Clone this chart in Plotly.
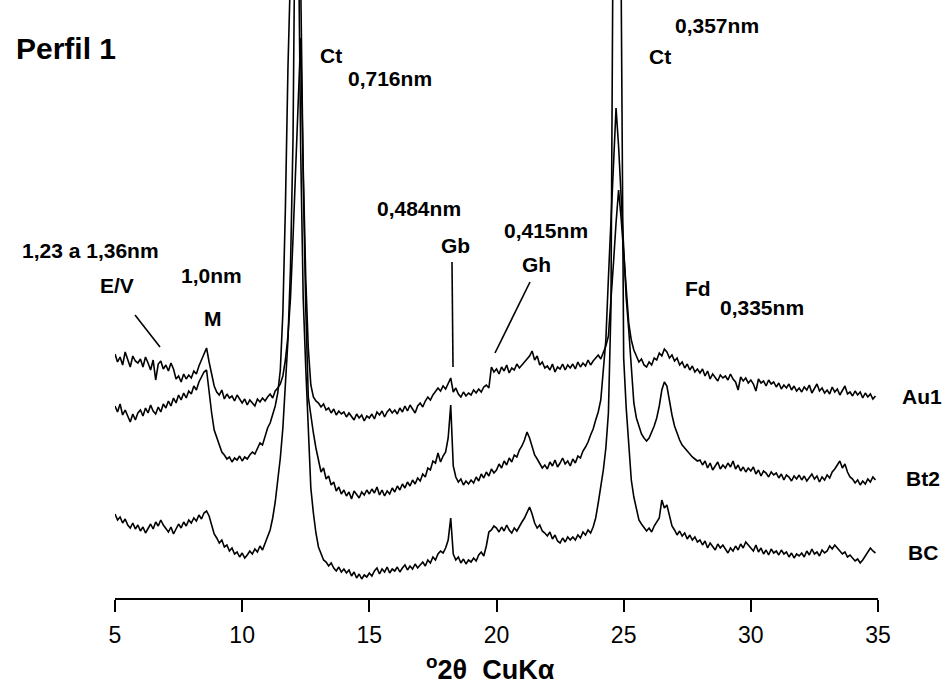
import plotly.graph_objects as go

# 2-theta sampling positions (degrees, CuKa)
two_theta = [round(5.0 + 0.1 * i, 1) for i in range(300)]

# Intensities (arbitrary units, already vertically offset as in the figure)
au1 = [
    244, 236, 241, 233, 246, 238, 231, 242, 237, 235,
    239, 231, 241, 235, 228, 238, 218, 234, 237, 229,
    233, 227, 235, 229, 219, 222, 216, 224, 219, 223,
    220, 227, 224, 232, 238, 245, 250, 236, 222, 212,
    206, 203, 208, 199, 204, 200, 202, 197, 203, 199,
    195, 199, 193, 198, 195, 192, 199, 196, 200, 197,
    201, 204, 200, 207, 210, 214, 222, 238, 262, 300,
    360, 430, 500, 560, 430, 320, 250, 213, 201, 197,
    195, 191, 194, 188, 190, 185, 189, 183, 187, 184,
    186, 181, 185, 182, 178, 184, 180, 183, 177, 182,
    180, 184, 179, 186, 183, 187, 181, 186, 189, 185,
    188, 184, 190, 186, 192, 187, 193, 189, 185, 192,
    195, 191, 197, 201, 198, 203, 206, 210, 207, 212,
    209, 214, 220, 206, 210, 204, 201, 206, 202, 205,
    203, 208, 205, 209, 206, 211, 213, 210, 231, 226,
    229, 224, 231, 227, 233, 225, 230, 228, 234, 230,
    233, 236, 239, 242, 247, 238, 242, 233, 236, 230,
    232, 228, 234, 226, 231, 229, 234, 228, 233, 230,
    234, 229, 236, 231, 235, 232, 238, 233, 237, 240,
    243, 239, 245, 252, 262, 295, 335, 375, 408, 380,
    345, 305, 275, 258, 248, 242, 236, 239, 233, 231,
    236, 233, 240, 238, 245, 242, 249, 246, 240, 243,
    237, 240, 233, 236, 230, 234, 228, 232, 226, 229,
    225, 229, 222, 227, 219, 224, 221, 217, 223, 220,
    222, 218, 224, 219, 216, 208, 221, 217, 220, 215,
    218, 214, 207, 219, 215, 217, 212, 218, 214, 216,
    211, 215, 209, 213, 210, 214, 208, 212, 207, 210,
    206, 211, 208, 213, 205, 209, 214, 207, 210, 205,
    208, 204, 211, 206, 209, 203, 207, 212, 204, 206,
    202, 207, 203, 206, 200, 205, 201, 204, 199, 202,
]

bt2 = [
    192, 186, 194, 183, 188, 181, 176, 184, 178, 185,
    188, 182, 190, 185, 193, 187, 184, 191, 186, 194,
    190, 197, 192, 200, 195, 203, 198, 205, 200, 207,
    204, 212, 208, 216, 221, 226, 228, 204, 185, 168,
    160, 152, 146, 143, 139, 141, 136, 140, 138, 142,
    137, 141, 139, 143, 146, 144, 150, 155, 153, 162,
    170, 175, 183, 192, 205, 228, 285, 390, 530, 650,
    780, 820, 760, 620, 420, 290, 201, 180, 165, 150,
    138, 126, 130, 119, 122, 113, 116, 107, 111, 104,
    108, 102, 106, 99, 107, 104, 100, 106, 103, 108,
    104, 109, 105, 111, 103, 108, 102, 107, 104, 110,
    106, 112, 108, 114, 110, 116, 112, 118, 114, 120,
    117, 124, 121, 130, 128, 137, 135, 145, 136, 142,
    146, 160, 193, 132, 121, 116, 119, 113, 117, 114,
    118, 115, 121, 117, 124, 120, 126, 122, 129, 125,
    128, 134, 130, 137, 133, 140, 136, 143, 141, 148,
    152, 158, 166, 160, 150, 143, 139, 134, 130, 133,
    129, 136, 132, 138, 131, 135, 140, 134, 137, 132,
    139, 135, 142, 140, 147, 151, 156, 163, 169, 178,
    186, 198, 225, 258, 320, 380, 440, 490, 452, 400,
    350, 300, 268, 232, 195, 180, 171, 164, 160, 157,
    160, 166, 172, 180, 192, 208, 216, 212, 196, 183,
    172, 164, 158, 153, 150, 146, 143, 141, 139, 137,
    138, 133, 137, 130, 135, 128, 132, 136, 129, 133,
    130, 135, 131, 137, 129, 133, 127, 131, 126, 130,
    127, 131, 124, 128, 122, 127, 125, 121, 126, 123,
    125, 120, 124, 118, 123, 121, 117, 122, 119, 123,
    118, 122, 117, 121, 124, 119, 122, 116, 121, 118,
    123, 120, 126, 129, 133, 137, 130, 134, 126, 121,
    119, 115, 118, 113, 117, 114, 119, 116, 121, 118,
]

bc = [
    84, 78, 81, 75, 79, 73, 70, 75, 69, 73,
    67, 71, 65, 70, 74, 69, 76, 72, 78, 73,
    70, 66, 71, 64, 69, 74, 70, 76, 72, 78,
    75, 80, 77, 83, 79, 85, 87, 82, 73, 64,
    60, 55, 58, 51, 53, 47, 50, 44, 46, 41,
    45, 40, 43, 47, 44, 49, 46, 52, 48, 55,
    60, 68, 80, 96, 118, 140, 170, 210, 258, 330,
    460, 750, 700, 450, 300, 230, 168, 110, 85, 65,
    51, 44, 38, 36, 32, 35, 30, 27, 31, 26,
    29, 25, 28, 22, 26, 20, 24, 19, 23, 21,
    25, 22, 27, 30, 24, 29, 26, 31, 25, 29,
    27, 31, 26, 30, 33, 28, 32, 29, 34, 30,
    33, 36, 32, 38, 35, 41, 38, 44, 47, 45,
    50, 58, 80, 44, 38, 41, 35, 39, 34, 38,
    36, 40, 37, 43, 46, 42, 52, 66, 68, 72,
    70, 66, 71, 67, 73, 68, 65, 70, 67, 72,
    76, 80, 86, 91, 84, 75, 70, 73, 67, 65,
    62, 66, 59, 63, 57, 55, 60, 56, 61, 58,
    61, 58, 63, 60, 66, 63, 68, 65, 71, 80,
    95, 112, 128, 150, 185, 290, 800, 1200, 1000, 600,
    240, 190, 150, 118, 101, 88, 78, 74, 70, 67,
    70, 66, 72, 76, 80, 98, 90, 93, 82, 72,
    68, 63, 67, 62, 65, 59, 63, 58, 61, 56,
    58, 53, 57, 50, 55, 52, 48, 54, 50, 53,
    49, 45, 50, 47, 52, 48, 54, 50, 56, 53,
    51, 47, 53, 46, 50, 44, 48, 43, 49, 45,
    47, 43, 48, 44, 46, 41, 45, 40, 44, 42,
    45, 41, 47, 43, 49, 44, 46, 42, 48, 45,
    47, 52, 49, 53, 50, 47, 44, 46, 41, 43,
    40, 37, 39, 35, 38, 42, 46, 50, 47, 45,
]

sample_names = ["Au1", "Bt2", "BC"]
x_ticks = [5, 10, 15, 20, 25, 30, 35]

FONT = "Liberation Sans, Arial, sans-serif"
W, H = 948, 686
ML, MR, MT, MB = 115, 70, 0, 88
PW, PH = W - ML - MR, H - MT - MB


def px(xp):
    return (xp - ML) / PW


def py(yp):
    return (H - MB - yp) / PH


fig = go.Figure()
for name, vals in zip(sample_names, [au1, bt2, bc]):
    fig.add_trace(go.Scatter(x=two_theta, y=vals, mode="lines", name=name,
                             line=dict(color="black", width=1.6),
                             showlegend=False, hoverinfo="skip"))

labels = [
    ("Perfil 1", 66, 49, 30),
    ("Ct", 331, 55, 21),
    ("0,716nm", 390, 78, 21),
    ("0,484nm", 419, 208, 21),
    ("Gb", 455, 246, 21),
    ("1,23 a 1,36nm", 90, 250, 21),
    ("E/V", 117, 285, 21),
    ("1,0nm", 211, 275, 21),
    ("M", 213, 318, 21),
    ("0,415nm", 546, 231, 21),
    ("Gh", 536, 264, 21),
    ("Ct", 660, 56, 21),
    ("0,357nm", 717, 26, 21),
    ("Fd", 698, 288, 21),
    ("0,335nm", 762, 307, 21),
    ("Au1", 922, 396, 21),
    ("Bt2", 923, 478, 21),
    ("BC", 923, 552, 21),
]
annotations = []
for text, xp, yp, size in labels:
    annotations.append(dict(text="<b>%s</b>" % text, x=px(xp), y=py(yp),
                            xref="paper", yref="paper", showarrow=False,
                            xanchor="center", yanchor="middle",
                            font=dict(family=FONT, size=size, color="black")))
annotations.append(dict(text="<b><sup>o</sup>2θ  CuKα</b>", x=px(490), y=py(668),
                        xref="paper", yref="paper", showarrow=False,
                        xanchor="center", yanchor="middle",
                        font=dict(family=FONT, size=27, color="black")))

pointer_lines = [
    (135, 315, 160, 347),
    (452, 262, 453, 367),
    (530, 282, 495, 353),
]
shapes = []
for x0, y0, x1, y1 in pointer_lines:
    shapes.append(dict(type="line", xref="paper", yref="paper",
                       x0=px(x0), y0=py(y0), x1=px(x1), y1=py(y1),
                       line=dict(color="black", width=1.6)))

fig.update_layout(
    width=W, height=H,
    margin=dict(l=ML, r=MR, t=MT, b=MB, pad=0),
    paper_bgcolor="white", plot_bgcolor="white",
    annotations=annotations, shapes=shapes,
    xaxis=dict(range=[5, 35], tickvals=x_ticks, ticktext=[str(v) for v in x_ticks],
               showgrid=False, zeroline=False, showline=True, linecolor="black",
               linewidth=2, ticks="outside", ticklen=12, tickwidth=2,
               tickcolor="black", ticklabelstandoff=3,
               tickfont=dict(family=FONT, size=23, color="black")),
    yaxis=dict(range=[0, 598], visible=False, showgrid=False, zeroline=False),
)

fig.write_html("out.html")
